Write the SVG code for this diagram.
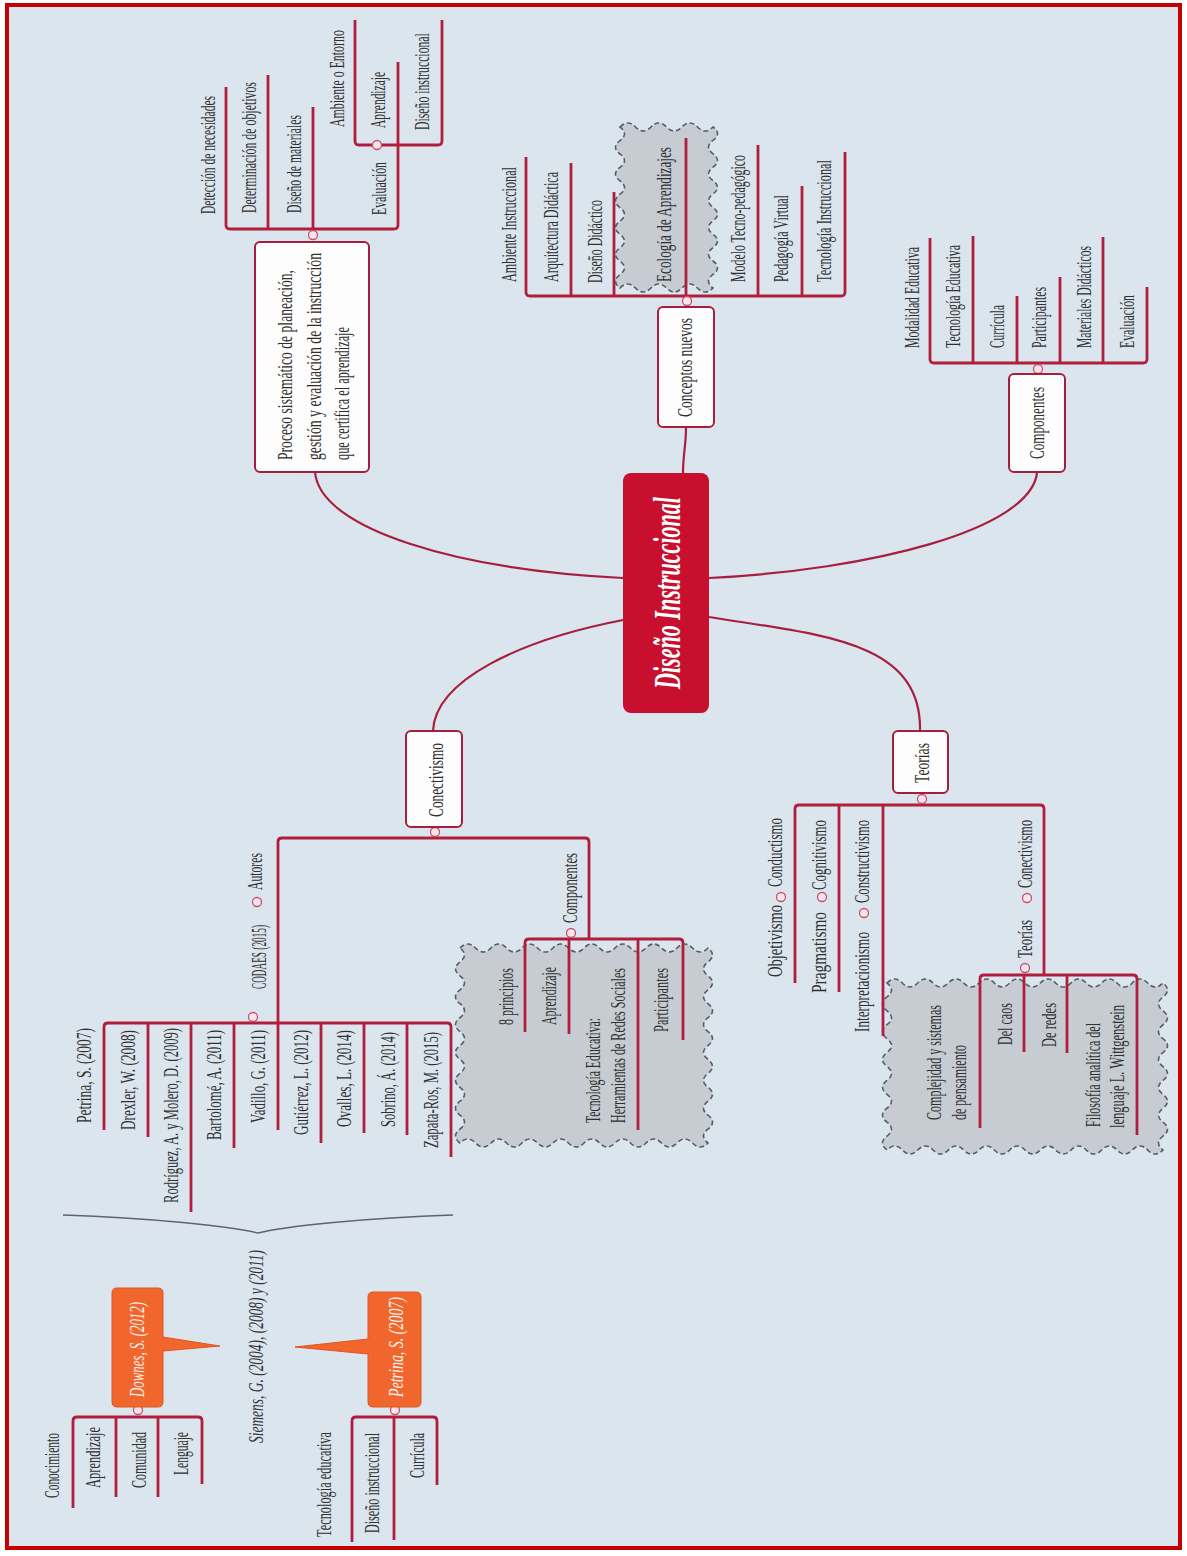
<svg xmlns="http://www.w3.org/2000/svg" width="1187" height="1556" viewBox="0 0 1187 1556">
  <style>
    .lb { font-family: "Liberation Serif", "DejaVu Serif", serif; font-size: 20px; fill: #303030; }
    .bx { font-family: "Liberation Serif", "DejaVu Serif", serif; font-size: 22px; fill: #2e2e2e; }
    .it { font-family: "Liberation Serif", "DejaVu Serif", serif; font-style: italic; }
    .box { fill: #fdfdfd; stroke: #a31f3d; stroke-width: 2; }
    .ln { fill: none; stroke: #b11e3d; stroke-width: 2.8; stroke-linejoin: round; }
    .cv { fill: none; stroke: #a81f3d; stroke-width: 2.2; }
    .knob { fill: #f6e6ea; stroke: #c9506c; stroke-width: 1.3; }
    .cloud { fill: #c6ccd2; stroke: #555d66; stroke-width: 1.6; stroke-dasharray: 5 3; }
    .call { fill: #f0662d; stroke: #e0561f; stroke-width: 1; }
  </style>

  <!-- page and frame -->
  <rect x="0" y="0" width="1187" height="1556" fill="#ffffff"/>
  <rect x="7" y="5" width="1173" height="1543" fill="#dbe5ee" stroke="#c40000" stroke-width="4"/>

  <!-- dashed cloud highlights behind branches -->
  <g id="clouds">
    <path class="cloud" d="M620,127 q7.75,-8 15.5,0 t15.5,0 15.5,0 15.5,0 15.5,0 15.5,0 q9,6.7 0,13.4 t0,13.4 0,13.4 0,13.4 0,13.4 0,13.4 0,13.4 0,13.4 0,13.4 0,13.4 0,13.4 0,13.6 q-7.75,8 -15.5,0 t-15.5,0 -15.5,0 -15.5,0 -15.5,0 -15.5,0 q-9,-6.7 0,-13.4 t0,-13.4 0,-13.4 0,-13.4 0,-13.4 0,-13.4 0,-13.4 0,-13.4 0,-13.4 0,-13.4 0,-13.4 0,-13.6 z"/>
    <path class="cloud" d="M460,948 q7.75,-8 15.5,0 t15.5,0 15.5,0 15.5,0 15.5,0 15.5,0 15.5,0 15.5,0 15.5,0 15.5,0 15.5,0 15.5,0 15.5,0 15.5,0 15.5,0 15.5,0 q9,7 0,13.93 t0,13.93 0,13.93 0,13.93 0,13.93 0,13.93 0,13.93 0,13.93 0,13.93 0,13.93 0,13.93 0,13.93 0,13.93 0,13.91 q-7.75,8 -15.5,0 t-15.5,0 -15.5,0 -15.5,0 -15.5,0 -15.5,0 -15.5,0 -15.5,0 -15.5,0 -15.5,0 -15.5,0 -15.5,0 -15.5,0 -15.5,0 -15.5,0 -15.5,0 q-9,-7 0,-13.93 t0,-13.93 0,-13.93 0,-13.93 0,-13.93 0,-13.93 0,-13.93 0,-13.93 0,-13.93 0,-13.93 0,-13.93 0,-13.93 0,-13.93 0,-13.91 z"/>
    <path class="cloud" d="M887,983 q7.67,-8 15.33,0 t15.33,0 15.33,0 15.33,0 15.33,0 15.33,0 15.33,0 15.33,0 15.33,0 15.33,0 15.33,0 15.33,0 15.33,0 15.33,0 15.33,0 15.33,0 15.33,0 15.39,0 q9,7 0,13.92 t0,13.92 0,13.92 0,13.92 0,13.92 0,13.92 0,13.92 0,13.92 0,13.92 0,13.92 0,13.92 0,13.88 q-7.67,8 -15.33,0 t-15.33,0 -15.33,0 -15.33,0 -15.33,0 -15.33,0 -15.33,0 -15.33,0 -15.33,0 -15.33,0 -15.33,0 -15.33,0 -15.33,0 -15.33,0 -15.33,0 -15.33,0 -15.33,0 -15.39,0 q-9,-7 0,-13.92 t0,-13.92 0,-13.92 0,-13.92 0,-13.92 0,-13.92 0,-13.92 0,-13.92 0,-13.92 0,-13.92 0,-13.92 0,-13.88 z"/>
  </g>

  <!-- connectors: main curves, brackets and underlines -->
  <g id="connectors">
    <path class="cv" d="M623,578 C460,570 320,530 315,472"/>
    <path class="cv" d="M683,473 C683,455 686,445 686,428"/>
    <path class="cv" d="M709,578 C870,570 1030,530 1037,473"/>
    <path class="cv" d="M709,617 C820,635 922,640 920,731"/>
    <path class="cv" d="M623,620 C520,640 435,680 433,731"/>

    <!-- Proceso branch -->
    <path class="ln" d="M226,87 V225 Q226,229 230,229 H394 Q398,229 398,225 V62"/>
    <path class="ln" d="M268,75 V229 M313,107 V229"/>
    <path class="ln" d="M355,20 V141 Q355,145 359,145 H438 Q442,145 442,141 V20"/>

    <!-- Conceptos nuevos branch -->
    <path class="ln" d="M526,157 V292 Q526,296 530,296 H841 Q845,296 845,292 V152"/>
    <path class="ln" d="M571,163 V296 M614,192 V296 M686,138 V296 M758,145 V296 M802,186 V296"/>

    <!-- Componentes branch -->
    <path class="ln" d="M930,238 V359 Q930,363 934,363 H1143 Q1147,363 1147,359 V287"/>
    <path class="ln" d="M973,236 V363 M1017,296 V363 M1060,277 V363 M1103,237 V363"/>

    <!-- Teorías branch -->
    <path class="ln" d="M795,983 V809 Q795,805 799,805 H1040 Q1044,805 1044,809 V975"/>
    <path class="ln" d="M839,805 V992 M883,805 V1036"/>
    <path class="ln" d="M980,1128 V979 Q980,975 984,975 H1133 Q1137,975 1137,979 V1135"/>
    <path class="ln" d="M1024,975 V1052 M1067,975 V1053"/>

    <!-- Conectivismo branch -->
    <path class="ln" d="M278,1130 V842 Q278,838 282,838 H585 Q589,838 589,842 V939"/>
    <path class="ln" d="M104,1130 V1027 Q104,1023 108,1023 H447 Q451,1023 451,1027 V1157"/>
    <path class="ln" d="M148,1023 V1137 M191,1023 V1212 M234,1023 V1148 M321,1023 V1143 M364,1023 V1133 M407,1023 V1135"/>
    <path class="ln" d="M525,1032 V943 Q525,939 529,939 H679 Q683,939 683,943 V1040"/>
    <path class="ln" d="M569,939 V1034 M638,939 V1130"/>

    <!-- Downes and Petrina branches -->
    <path class="ln" d="M73,1508 V1421 Q73,1417 77,1417 H198 Q202,1417 202,1421 V1484"/>
    <path class="ln" d="M116,1417 V1497 M158,1417 V1497"/>
    <path class="ln" d="M352,1542 V1421 Q352,1417 356,1417 H433 Q437,1417 437,1421 V1485"/>
    <path class="ln" d="M394,1417 V1540"/>

    <!-- brace above Siemens -->
    <path d="M63,1215 C150,1218 230,1226 258,1233 C286,1226 366,1218 453,1215" fill="none" stroke="#5f6368" stroke-width="1.3"/>

    <!-- collapse knobs -->
    <circle class="knob" cx="313" cy="235" r="4.5"/>
    <circle class="knob" cx="377" cy="145" r="4.5"/>
    <circle class="knob" cx="687" cy="301" r="4.5"/>
    <circle class="knob" cx="1038" cy="369" r="4.5"/>
    <circle class="knob" cx="922" cy="799" r="4.5"/>
    <circle class="knob" cx="781" cy="897" r="4.5"/>
    <circle class="knob" cx="822" cy="897" r="4.5"/>
    <circle class="knob" cx="864" cy="913" r="4.5"/>
    <circle class="knob" cx="1027" cy="898" r="4.5"/>
    <circle class="knob" cx="1025" cy="968" r="4.5"/>
    <circle class="knob" cx="435" cy="832" r="4.5"/>
    <circle class="knob" cx="257" cy="902" r="4.5"/>
    <circle class="knob" cx="253" cy="1017" r="4.5"/>
    <circle class="knob" cx="571" cy="933" r="4.5"/>
    <circle class="knob" cx="138" cy="1410" r="4.5"/>
    <circle class="knob" cx="395" cy="1410" r="4.5"/>
  </g>

  <!-- central topic -->
  <g id="n-central">
    <rect x="623" y="473" width="86" height="240" rx="8" fill="#c8102e"/>
    <text class="it" font-size="38" font-weight="bold" fill="#ffffff" transform="translate(680,689) rotate(-90)" textLength="192" lengthAdjust="spacingAndGlyphs">Diseño Instruccional</text>
  </g>

  <!-- Proceso -->
  <g id="n-proceso">
    <rect class="box" x="255" y="242" width="114" height="230" rx="5"/>
    <text class="bx" transform="translate(292,460) rotate(-90)" textLength="190" lengthAdjust="spacingAndGlyphs">Proceso sistemático de planeación,</text>
    <text class="bx" transform="translate(321,460) rotate(-90)" textLength="207" lengthAdjust="spacingAndGlyphs">gestión y evaluación de la instrucción</text>
    <text class="bx" transform="translate(349,460) rotate(-90)" textLength="133" lengthAdjust="spacingAndGlyphs">que certifica el aprendizaje</text>
  </g>
  <g id="n-deteccion"><text class="lb" transform="translate(215,214) rotate(-90)" textLength="118" lengthAdjust="spacingAndGlyphs">Detección de necesidades</text></g>
  <g id="n-objetivos"><text class="lb" transform="translate(256,213) rotate(-90) scale(0.65,1)" textLength="201.5" lengthAdjust="spacingAndGlyphs">Determinación de objetivos</text></g>
  <g id="n-materiales"><text class="lb" transform="translate(301,213) rotate(-90)" textLength="98" lengthAdjust="spacingAndGlyphs">Diseño de materiales</text></g>
  <g id="n-evaluacion1"><text class="lb" transform="translate(386,215) rotate(-90)" textLength="53" lengthAdjust="spacingAndGlyphs">Evaluación</text></g>
  <g id="n-ambiente"><text class="lb" transform="translate(344,127) rotate(-90) scale(0.65,1)" textLength="149" lengthAdjust="spacingAndGlyphs">Ambiente o Entorno</text></g>
  <g id="n-aprendizaje1"><text class="lb" transform="translate(385,128) rotate(-90)" textLength="56" lengthAdjust="spacingAndGlyphs">Aprendizaje</text></g>
  <g id="n-disinstr1"><text class="lb" transform="translate(429,130) rotate(-90) scale(0.65,1)" textLength="149" lengthAdjust="spacingAndGlyphs">Diseño instruccional</text></g>

  <!-- Conceptos nuevos -->
  <g id="n-conceptos">
    <rect class="box" x="658" y="307" width="56" height="120" rx="5"/>
    <text class="bx" transform="translate(692,417) rotate(-90)" textLength="99" lengthAdjust="spacingAndGlyphs">Conceptos nuevos</text>
  </g>
  <g id="n-ambinstr"><text class="lb" transform="translate(516,282) rotate(-90)" textLength="115" lengthAdjust="spacingAndGlyphs">Ambiente Instruccional</text></g>
  <g id="n-arquitectura"><text class="lb" transform="translate(558,282) rotate(-90)" textLength="110" lengthAdjust="spacingAndGlyphs">Arquitectura Didáctica</text></g>
  <g id="n-disdidactico"><text class="lb" transform="translate(602,283) rotate(-90)" textLength="83" lengthAdjust="spacingAndGlyphs">Diseño Didáctico</text></g>
  <g id="n-ecologia"><text class="lb" transform="translate(671,282) rotate(-90)" textLength="135" lengthAdjust="spacingAndGlyphs">Ecología de Aprendizajes</text></g>
  <g id="n-modelo"><text class="lb" transform="translate(745,282) rotate(-90)" textLength="127" lengthAdjust="spacingAndGlyphs">Modelo Tecno-pedagógico</text></g>
  <g id="n-pedagogia"><text class="lb" transform="translate(788,282) rotate(-90)" textLength="87" lengthAdjust="spacingAndGlyphs">Pedagogía Virtual</text></g>
  <g id="n-tecinstr"><text class="lb" transform="translate(831,282) rotate(-90)" textLength="122" lengthAdjust="spacingAndGlyphs">Tecnología Instruccional</text></g>

  <!-- Componentes -->
  <g id="n-componentes">
    <rect class="box" x="1009" y="374" width="56" height="98" rx="5"/>
    <text class="bx" transform="translate(1044,459) rotate(-90)" textLength="72" lengthAdjust="spacingAndGlyphs">Componentes</text>
  </g>
  <g id="n-modalidad"><text class="lb" transform="translate(919,348) rotate(-90)" textLength="101" lengthAdjust="spacingAndGlyphs">Modalidad Educativa</text></g>
  <g id="n-teceduc1"><text class="lb" transform="translate(960,348) rotate(-90)" textLength="103" lengthAdjust="spacingAndGlyphs">Tecnología Educativa</text></g>
  <g id="n-curricula1"><text class="lb" transform="translate(1004,348) rotate(-90)" textLength="43" lengthAdjust="spacingAndGlyphs">Currícula</text></g>
  <g id="n-participantes1"><text class="lb" transform="translate(1046,348) rotate(-90)" textLength="61" lengthAdjust="spacingAndGlyphs">Participantes</text></g>
  <g id="n-matdid"><text class="lb" transform="translate(1091,348) rotate(-90)" textLength="102" lengthAdjust="spacingAndGlyphs">Materiales Didácticos</text></g>
  <g id="n-evaluacion2"><text class="lb" transform="translate(1134,348) rotate(-90)" textLength="53" lengthAdjust="spacingAndGlyphs">Evaluación</text></g>

  <!-- Teorías -->
  <g id="n-teorias">
    <rect class="box" x="893" y="731" width="55" height="62" rx="5"/>
    <text class="bx" transform="translate(929,783) rotate(-90)" textLength="40" lengthAdjust="spacingAndGlyphs">Teorías</text>
  </g>
  <g id="n-conductismo"><text class="lb" transform="translate(782,887) rotate(-90)" textLength="69" lengthAdjust="spacingAndGlyphs">Conductismo</text></g>
  <g id="n-objetivismo"><text class="lb" transform="translate(782,977) rotate(-90)" textLength="72" lengthAdjust="spacingAndGlyphs">Objetivismo</text></g>
  <g id="n-cognitivismo"><text class="lb" transform="translate(826,890) rotate(-90)" textLength="70" lengthAdjust="spacingAndGlyphs">Cognitivismo</text></g>
  <g id="n-pragmatismo"><text class="lb" transform="translate(826,993) rotate(-90)" textLength="81" lengthAdjust="spacingAndGlyphs">Pragmatismo</text></g>
  <g id="n-constructivismo"><text class="lb" transform="translate(869,903) rotate(-90)" textLength="83" lengthAdjust="spacingAndGlyphs">Constructivismo</text></g>
  <g id="n-interpretacionismo"><text class="lb" transform="translate(869,1032) rotate(-90)" textLength="100" lengthAdjust="spacingAndGlyphs">Interpretacionismo</text></g>
  <g id="n-conectivismo2"><text class="lb" transform="translate(1032,888) rotate(-90)" textLength="68" lengthAdjust="spacingAndGlyphs">Conectivismo</text></g>
  <g id="n-teorias2"><text class="lb" transform="translate(1032,958) rotate(-90)" textLength="38" lengthAdjust="spacingAndGlyphs">Teorías</text></g>
  <g id="n-complejidad">
    <text class="lb" transform="translate(941,1120) rotate(-90)" textLength="115" lengthAdjust="spacingAndGlyphs">Complejidad y sistemas</text>
    <text class="lb" transform="translate(966,1120) rotate(-90)" textLength="75" lengthAdjust="spacingAndGlyphs">de pensamiento</text>
  </g>
  <g id="n-caos"><text class="lb" transform="translate(1012,1045) rotate(-90)" textLength="42" lengthAdjust="spacingAndGlyphs">Del caos</text></g>
  <g id="n-redes"><text class="lb" transform="translate(1056,1047) rotate(-90)" textLength="44" lengthAdjust="spacingAndGlyphs">De redes</text></g>
  <g id="n-filosofia">
    <text class="lb" transform="translate(1100,1127) rotate(-90)" textLength="104" lengthAdjust="spacingAndGlyphs">Filosofía analítica del</text>
    <text class="lb" transform="translate(1124,1128) rotate(-90)" textLength="123" lengthAdjust="spacingAndGlyphs">lenguaje  L. Wittgenstein</text>
  </g>

  <!-- Conectivismo -->
  <g id="n-conectivismo">
    <rect class="box" x="406" y="731" width="56" height="96" rx="5"/>
    <text class="bx" transform="translate(443,817) rotate(-90)" textLength="74" lengthAdjust="spacingAndGlyphs">Conectivismo</text>
  </g>
  <g id="n-autores"><text class="lb" transform="translate(262,890) rotate(-90)" textLength="37" lengthAdjust="spacingAndGlyphs">Autores</text></g>
  <g id="n-codaes"><text class="lb" transform="translate(266,989) rotate(-90)" textLength="64" lengthAdjust="spacingAndGlyphs">CODAES (2015)</text></g>
  <g id="n-petrina1"><text class="lb" transform="translate(91,1123) rotate(-90)" textLength="95" lengthAdjust="spacingAndGlyphs">Petrina, S. (2007)</text></g>
  <g id="n-drexler"><text class="lb" transform="translate(135,1130) rotate(-90)" textLength="100" lengthAdjust="spacingAndGlyphs">Drexler, W. (2008)</text></g>
  <g id="n-rodriguez"><text class="lb" transform="translate(178,1203) rotate(-90)" textLength="175" lengthAdjust="spacingAndGlyphs">Rodríguez, A. y Molero, D. (2009)</text></g>
  <g id="n-bartolome"><text class="lb" transform="translate(221,1140) rotate(-90)" textLength="110" lengthAdjust="spacingAndGlyphs">Bartolomé, A. (2011)</text></g>
  <g id="n-vadillo"><text class="lb" transform="translate(265,1123) rotate(-90)" textLength="93" lengthAdjust="spacingAndGlyphs">Vadillo, G. (2011)</text></g>
  <g id="n-gutierrez"><text class="lb" transform="translate(308,1135) rotate(-90)" textLength="105" lengthAdjust="spacingAndGlyphs">Gutiérrez, L. (2012)</text></g>
  <g id="n-ovalles"><text class="lb" transform="translate(351,1127) rotate(-90)" textLength="97" lengthAdjust="spacingAndGlyphs">Ovalles, L. (2014)</text></g>
  <g id="n-sobrino"><text class="lb" transform="translate(395,1127) rotate(-90)" textLength="95" lengthAdjust="spacingAndGlyphs">Sobrino, Á. (2014)</text></g>
  <g id="n-zapata"><text class="lb" transform="translate(438,1148) rotate(-90)" textLength="116" lengthAdjust="spacingAndGlyphs">Zapata-Ros, M. (2015)</text></g>
  <g id="n-componentes2"><text class="lb" transform="translate(577,923) rotate(-90)" textLength="70" lengthAdjust="spacingAndGlyphs">Componentes</text></g>
  <g id="n-principios"><text class="lb" transform="translate(513,1025) rotate(-90)" textLength="57" lengthAdjust="spacingAndGlyphs">8 principios</text></g>
  <g id="n-aprendizaje2"><text class="lb" transform="translate(556,1025) rotate(-90)" textLength="58" lengthAdjust="spacingAndGlyphs">Aprendizaje</text></g>
  <g id="n-tecredes">
    <text class="lb" transform="translate(600,1123) rotate(-90)" textLength="105" lengthAdjust="spacingAndGlyphs">Tecnología Educativa:</text>
    <text class="lb" transform="translate(625,1123) rotate(-90)" textLength="155" lengthAdjust="spacingAndGlyphs">Herramientas de Redes Sociales</text>
  </g>
  <g id="n-participantes2"><text class="lb" transform="translate(668,1032) rotate(-90)" textLength="64" lengthAdjust="spacingAndGlyphs">Participantes</text></g>

  <!-- Siemens, Downes and Petrina -->
  <g id="n-siemens"><text class="it" font-size="21" fill="#333333" transform="translate(263,1443) rotate(-90)" textLength="193" lengthAdjust="spacingAndGlyphs">Siemens, G. (2004), (2008) y (2011)</text></g>
  <g id="n-downes">
    <path class="call" d="M117,1288 H158 Q163,1288 163,1293 V1337 L220,1346 L163,1351 V1402 Q163,1407 158,1407 H117 Q112,1407 112,1402 V1293 Q112,1288 117,1288 Z"/>
    <text class="it" font-size="20" fill="#fff4ee" transform="translate(144,1397) rotate(-90)" textLength="95" lengthAdjust="spacingAndGlyphs">Downes, S. (2012)</text>
  </g>
  <g id="n-conocimiento"><text class="lb" transform="translate(59,1498) rotate(-90)" textLength="65" lengthAdjust="spacingAndGlyphs">Conocimiento</text></g>
  <g id="n-aprendizaje3"><text class="lb" transform="translate(100,1488) rotate(-90)" textLength="61" lengthAdjust="spacingAndGlyphs">Aprendizaje</text></g>
  <g id="n-comunidad"><text class="lb" transform="translate(146,1488) rotate(-90)" textLength="56" lengthAdjust="spacingAndGlyphs">Comunidad</text></g>
  <g id="n-lenguaje"><text class="lb" transform="translate(188,1475) rotate(-90)" textLength="43" lengthAdjust="spacingAndGlyphs">Lenguaje</text></g>
  <g id="n-petrina2">
    <path class="call" d="M373,1292 H416 Q421,1292 421,1297 V1402 Q421,1407 416,1407 H373 Q368,1407 368,1402 V1354 L295,1347 L368,1339 V1297 Q368,1292 373,1292 Z"/>
    <text class="it" font-size="20" fill="#fff4ee" transform="translate(403,1397) rotate(-90)" textLength="100" lengthAdjust="spacingAndGlyphs">Petrina, S. (2007)</text>
  </g>
  <g id="n-teceduc2"><text class="lb" transform="translate(331,1537) rotate(-90)" textLength="105" lengthAdjust="spacingAndGlyphs">Tecnología educativa</text></g>
  <g id="n-disinstr2"><text class="lb" transform="translate(379,1533) rotate(-90)" textLength="100" lengthAdjust="spacingAndGlyphs">Diseño instruccional</text></g>
  <g id="n-curricula2"><text class="lb" transform="translate(424,1478) rotate(-90)" textLength="45" lengthAdjust="spacingAndGlyphs">Currícula</text></g>
</svg>
